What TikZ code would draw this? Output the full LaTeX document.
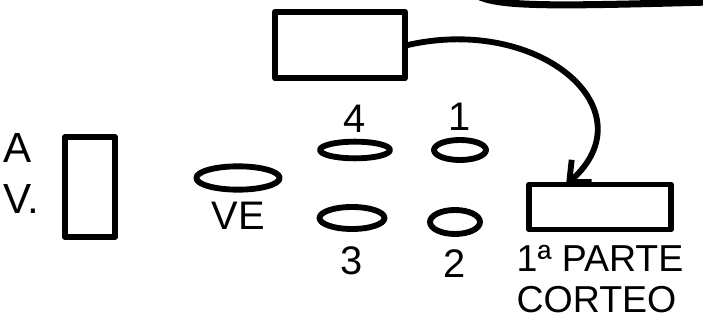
\documentclass[tikz,border=0pt]{standalone}
\usepackage{fontspec}
\setmainfont{Liberation Sans}
\usepackage{tikz}
\usetikzlibrary{arrows.meta, positioning, shapes.geometric}

\begin{document}
\begin{tikzpicture}[x=0.03cm, y=-0.03cm, line width=5pt, line join=round, line cap=round,
    block/.style={rectangle, draw, inner sep=0pt},
    car/.style={ellipse, draw, inner sep=0pt},
    tag/.style={font=\fontsize{34}{36}\selectfont, inner sep=0pt}]

    \useasboundingbox (0,0) rectangle (703,320);

    % Blocks
    \node[block, minimum width=3.9cm, minimum height=2.0cm] (top) at (340,45) {};
    \node[block, minimum width=4.25cm, minimum height=1.35cm] (corteo) at (600,207) {};
    \node[block, minimum width=1.5cm, minimum height=3.0cm] (av) at (90,187) {};

    % Cars
    \node[car, minimum width=2.5cm, minimum height=0.7cm] (ve) at (238,178) {};
    \node[car, minimum width=2.1cm, minimum height=0.5cm] (car4) at (355,150) {};
    \node[car, minimum width=1.56cm, minimum height=0.6cm] (car1) at (460,150) {};
    \node[car, minimum width=1.95cm, minimum height=0.66cm] (car3) at (352,218) {};
    \node[car, minimum width=1.5cm, minimum height=0.72cm] (car2) at (455,222) {};

    % Labels
    \node[tag, align=left, font=\fontsize{36}{44}\selectfont, left=0.6cm of av, yshift=0.4cm] (avtext) {A\\V.};
    \node[tag, below=0.2cm of ve] (vetext) {VE};
    \node[tag, above=0.1cm of car4] (n4) {4};
    \node[tag, above=0.1cm of car1] (n1) {1};
    \node[tag, below=0.35cm of car3] (n3) {3};
    \node[tag, below=0.3cm of car2] (n2) {2};
    \node[tag, align=left, below=0.3cm of corteo, font=\fontsize{32}{35}\selectfont] (ctext) {1ª PARTE\\CORTEO};

    % Arrow
    \coordinate (hit) at (566,185);
    \draw[-{Straight Barb[length=0.5cm, width=0.9cm]}] (top.east) .. controls (540,15) and (650,110) .. (hit);

    % Top edge
    \draw[line width=6pt] (480,-3) .. controls (505,7) and (560,6) .. (710,2);

\end{tikzpicture}
\end{document}
